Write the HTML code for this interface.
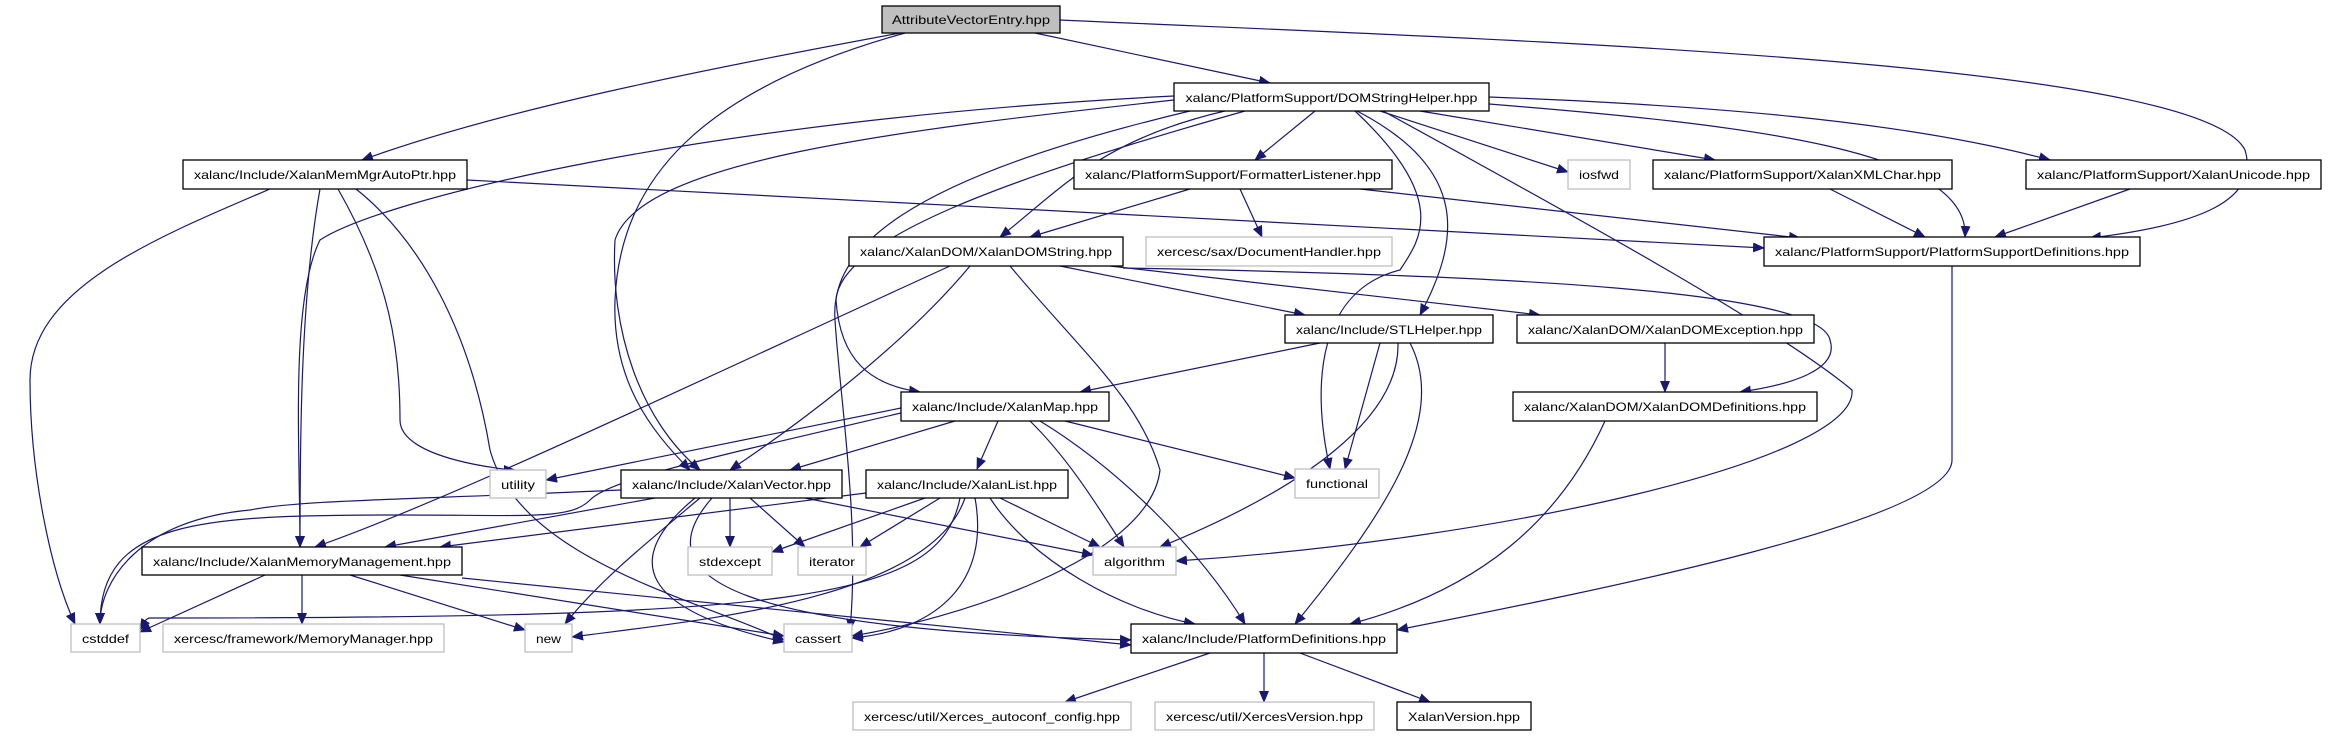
<!DOCTYPE html>
<html><head><meta charset="utf-8"><style>
html,body{margin:0;padding:0;background:#fff;}
svg{display:block;}
text{font-family:"Liberation Sans","DejaVu Sans",sans-serif;font-size:12px;fill:#000;}
.n{fill:#fff;stroke:#000;stroke-width:1.3;}
.g{fill:#fff;stroke:#bfbfbf;stroke-width:1.3;}
.e{fill:none;stroke:#191970;stroke-width:1.2;marker-end:url(#ah);}
</style></head><body>
<svg width="2344" height="736" viewBox="0 0 2344 736" xmlns="http://www.w3.org/2000/svg">
<defs><marker id="ah" markerWidth="12" markerHeight="10" refX="11" refY="5" orient="auto" markerUnits="userSpaceOnUse"><path d="M0,0 L12,5 L0,10 z" fill="#191970"/></marker></defs>
<g>
<!-- edges -->
<path class="e" d="M900,33 C700,70 500,110 362,160"/>
<path class="e" d="M905,33 C700,90 620,180 615,300 C612,380 650,430 690,470"/>
<path class="e" d="M1035,33 L1270,83"/>
<path class="e" d="M1060,20 C1500,40 2200,60 2245,150 C2260,200 2200,225 2090,238"/>
<path class="e" d="M1174,96 C700,120 380,200 320,240 C290,300 300,450 300,547"/>
<path class="e" d="M1174,100 C900,130 640,160 615,240 C610,330 640,420 700,470"/>
<path class="e" d="M1245,111 C1000,180 840,240 836,300 C840,360 870,385 920,392"/>
<path class="e" d="M1225,111 C1100,140 1060,190 1000,237"/>
<path class="e" d="M1315,111 L1255,160"/>
<path class="e" d="M1190,111 C900,180 830,250 835,320 C840,400 860,520 850,630"/>
<path class="e" d="M1355,111 C1450,200 1420,240 1400,270 C1320,290 1310,380 1330,469"/>
<path class="e" d="M1357,111 C1470,170 1460,240 1420,315"/>
<path class="e" d="M1380,111 L1568,172"/>
<path class="e" d="M1420,111 L1715,160"/>
<path class="e" d="M1489,97 C1700,105 1900,120 2050,160"/>
<path class="e" d="M1489,104 C1750,125 1970,150 1965,237"/>
<path class="e" d="M1383,111 C1600,230 1780,330 1852,390 C1858,460 1500,540 1176,561"/>
<path class="e" d="M467,180 L1764,248"/>
<path class="e" d="M270,189 C150,240 30,290 30,380 C30,470 50,570 75,624"/>
<path class="e" d="M320,189 C300,300 300,450 300,547"/>
<path class="e" d="M338,189 C390,280 400,350 400,420 C400,460 510,470 515,470"/>
<path class="e" d="M356,189 C420,240 470,330 490,450 C520,560 700,600 784,640"/>
<path class="e" d="M1190,189 L1030,237"/>
<path class="e" d="M1240,189 L1262,237"/>
<path class="e" d="M1360,189 L1800,238"/>
<path class="e" d="M1830,189 L1925,237"/>
<path class="e" d="M2130,189 L1995,237"/>
<path class="e" d="M1952,266 L1952,460 C1952,520 1600,590 1397,630"/>
<path class="e" d="M950,266 C700,380 450,500 315,547"/>
<path class="e" d="M970,266 C900,350 790,430 730,470"/>
<path class="e" d="M1010,266 C1080,350 1140,400 1160,470 C1150,560 950,620 852,636"/>
<path class="e" d="M1060,266 L1305,315"/>
<path class="e" d="M1110,266 L1540,315"/>
<path class="e" d="M1123,268 C1500,275 1820,290 1830,340 C1840,370 1790,385 1740,392"/>
<path class="e" d="M1320,343 L1080,392"/>
<path class="e" d="M1380,343 L1345,469"/>
<path class="e" d="M1398,343 C1400,420 1300,490 1160,547"/>
<path class="e" d="M1410,343 C1450,420 1380,520 1295,624"/>
<path class="e" d="M1665,343 L1665,392"/>
<path class="e" d="M1605,421 C1560,520 1480,590 1350,624"/>
<path class="e" d="M901,408 L546,480"/>
<path class="e" d="M901,413 C700,460 610,480 590,500 C570,520 530,515 400,515 C200,515 100,520 100,624"/>
<path class="e" d="M955,421 L790,470"/>
<path class="e" d="M998,421 L977,469"/>
<path class="e" d="M1065,421 L1295,478"/>
<path class="e" d="M1030,421 C1070,460 1100,510 1124,547"/>
<path class="e" d="M1040,421 C1120,470 1200,550 1245,624"/>
<path class="e" d="M621,490 C400,500 300,500 250,510 C140,520 100,580 100,624"/>
<path class="e" d="M655,498 L385,547"/>
<path class="e" d="M730,498 L730,547"/>
<path class="e" d="M750,498 L805,547"/>
<path class="e" d="M805,498 L1093,555"/>
<path class="e" d="M700,498 C650,540 600,580 565,624"/>
<path class="e" d="M695,498 C620,560 640,610 784,642"/>
<path class="e" d="M712,498 C640,580 740,630 1131,640"/>
<path class="e" d="M866,493 L440,547"/>
<path class="e" d="M925,498 L772,552"/>
<path class="e" d="M940,498 L860,547"/>
<path class="e" d="M1000,498 L1100,547"/>
<path class="e" d="M960,498 C940,600 800,618 150,618 C145,618 143,625 140,630"/>
<path class="e" d="M965,498 C930,600 700,620 572,637"/>
<path class="e" d="M975,498 C990,580 940,630 852,638"/>
<path class="e" d="M990,498 C1030,560 1120,610 1195,624"/>
<path class="e" d="M265,575 L140,632"/>
<path class="e" d="M302,575 L302,624"/>
<path class="e" d="M350,575 L525,630"/>
<path class="e" d="M400,575 L784,636"/>
<path class="e" d="M462,578 L1131,645"/>
<path class="e" d="M1210,653 L1065,702"/>
<path class="e" d="M1264,653 L1264,702"/>
<path class="e" d="M1300,653 L1430,702"/>
</g>
<g>
<!-- nodes -->
<rect x="882" y="6" width="178" height="27" style="fill:#bfbfbf;stroke:#000;stroke-width:1.3"/><text x="971" y="24" text-anchor="middle" textLength="158" lengthAdjust="spacingAndGlyphs">AttributeVectorEntry.hpp</text>
<rect class="n" x="1174" y="83" width="315" height="28"/><text x="1331.5" y="102" text-anchor="middle" textLength="292" lengthAdjust="spacingAndGlyphs">xalanc/PlatformSupport/DOMStringHelper.hpp</text>
<rect class="n" x="183" y="160" width="284" height="29"/><text x="325" y="179" text-anchor="middle" textLength="262" lengthAdjust="spacingAndGlyphs">xalanc/Include/XalanMemMgrAutoPtr.hpp</text>
<rect class="n" x="1074" y="160" width="318" height="29"/><text x="1233" y="179" text-anchor="middle" textLength="296" lengthAdjust="spacingAndGlyphs">xalanc/PlatformSupport/FormatterListener.hpp</text>
<rect class="g" x="1568" y="160" width="62" height="29"/><text x="1599" y="179" text-anchor="middle" textLength="40" lengthAdjust="spacingAndGlyphs">iosfwd</text>
<rect class="n" x="1653" y="160" width="299" height="29"/><text x="1802.5" y="179" text-anchor="middle" textLength="277" lengthAdjust="spacingAndGlyphs">xalanc/PlatformSupport/XalanXMLChar.hpp</text>
<rect class="n" x="2026" y="160" width="295" height="29"/><text x="2173.5" y="179" text-anchor="middle" textLength="273" lengthAdjust="spacingAndGlyphs">xalanc/PlatformSupport/XalanUnicode.hpp</text>
<rect class="n" x="1764" y="237" width="376" height="29"/><text x="1952" y="256" text-anchor="middle" textLength="354" lengthAdjust="spacingAndGlyphs">xalanc/PlatformSupport/PlatformSupportDefinitions.hpp</text>
<rect class="n" x="849" y="237" width="274" height="29"/><text x="986" y="256" text-anchor="middle" textLength="252" lengthAdjust="spacingAndGlyphs">xalanc/XalanDOM/XalanDOMString.hpp</text>
<rect class="g" x="1146" y="237" width="246" height="29"/><text x="1269" y="256" text-anchor="middle" textLength="224" lengthAdjust="spacingAndGlyphs">xercesc/sax/DocumentHandler.hpp</text>
<rect class="n" x="1285" y="315" width="208" height="28"/><text x="1389" y="334" text-anchor="middle" textLength="186" lengthAdjust="spacingAndGlyphs">xalanc/Include/STLHelper.hpp</text>
<rect class="n" x="1517" y="315" width="297" height="28"/><text x="1665.5" y="334" text-anchor="middle" textLength="275" lengthAdjust="spacingAndGlyphs">xalanc/XalanDOM/XalanDOMException.hpp</text>
<rect class="n" x="1513" y="392" width="304" height="29"/><text x="1665" y="411" text-anchor="middle" textLength="282" lengthAdjust="spacingAndGlyphs">xalanc/XalanDOM/XalanDOMDefinitions.hpp</text>
<rect class="n" x="901" y="392" width="208" height="29"/><text x="1005" y="411" text-anchor="middle" textLength="186" lengthAdjust="spacingAndGlyphs">xalanc/Include/XalanMap.hpp</text>
<rect class="g" x="490" y="470" width="56" height="28"/><text x="518" y="489" text-anchor="middle" textLength="34" lengthAdjust="spacingAndGlyphs">utility</text>
<rect class="n" x="621" y="470" width="221" height="28"/><text x="731.5" y="489" text-anchor="middle" textLength="199" lengthAdjust="spacingAndGlyphs">xalanc/Include/XalanVector.hpp</text>
<rect class="n" x="866" y="470" width="202" height="28"/><text x="967" y="489" text-anchor="middle" textLength="180" lengthAdjust="spacingAndGlyphs">xalanc/Include/XalanList.hpp</text>
<rect class="g" x="1295" y="469" width="84" height="29"/><text x="1337" y="488" text-anchor="middle" textLength="62" lengthAdjust="spacingAndGlyphs">functional</text>
<rect class="n" x="142" y="547" width="320" height="28"/><text x="302" y="566" text-anchor="middle" textLength="298" lengthAdjust="spacingAndGlyphs">xalanc/Include/XalanMemoryManagement.hpp</text>
<rect class="g" x="688" y="547" width="84" height="28"/><text x="730" y="566" text-anchor="middle" textLength="62" lengthAdjust="spacingAndGlyphs">stdexcept</text>
<rect class="g" x="798" y="547" width="68" height="28"/><text x="832" y="566" text-anchor="middle" textLength="46" lengthAdjust="spacingAndGlyphs">iterator</text>
<rect class="g" x="1093" y="547" width="83" height="28"/><text x="1134.5" y="566" text-anchor="middle" textLength="61" lengthAdjust="spacingAndGlyphs">algorithm</text>
<rect class="g" x="71" y="624" width="69" height="28"/><text x="105.5" y="643" text-anchor="middle" textLength="47" lengthAdjust="spacingAndGlyphs">cstddef</text>
<rect class="g" x="163" y="624" width="281" height="28"/><text x="303.5" y="643" text-anchor="middle" textLength="259" lengthAdjust="spacingAndGlyphs">xercesc/framework/MemoryManager.hpp</text>
<rect class="g" x="525" y="624" width="47" height="28"/><text x="548.5" y="643" text-anchor="middle" textLength="25" lengthAdjust="spacingAndGlyphs">new</text>
<rect class="g" x="784" y="624" width="68" height="28"/><text x="818" y="643" text-anchor="middle" textLength="46" lengthAdjust="spacingAndGlyphs">cassert</text>
<rect class="n" x="1131" y="624" width="266" height="29"/><text x="1264" y="643" text-anchor="middle" textLength="244" lengthAdjust="spacingAndGlyphs">xalanc/Include/PlatformDefinitions.hpp</text>
<rect class="g" x="853" y="702" width="278" height="28"/><text x="992" y="721" text-anchor="middle" textLength="256" lengthAdjust="spacingAndGlyphs">xercesc/util/Xerces_autoconf_config.hpp</text>
<rect class="g" x="1155" y="702" width="219" height="28"/><text x="1264.5" y="721" text-anchor="middle" textLength="197" lengthAdjust="spacingAndGlyphs">xercesc/util/XercesVersion.hpp</text>
<rect class="n" x="1397" y="702" width="134" height="28"/><text x="1464" y="721" text-anchor="middle" textLength="112" lengthAdjust="spacingAndGlyphs">XalanVersion.hpp</text>
</g>
</svg>
</body></html>
